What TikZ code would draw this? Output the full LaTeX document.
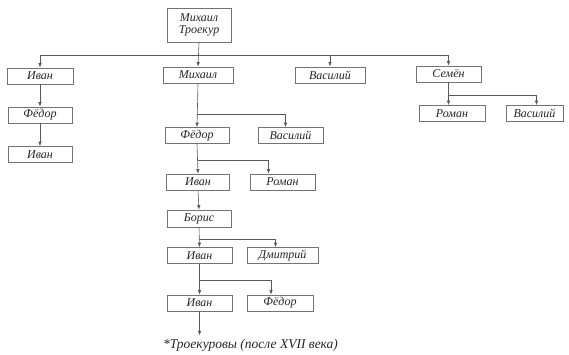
\documentclass[tikz,border=0pt]{standalone}
\usepackage{fontspec}
\setmainfont{Liberation Serif}
\usetikzlibrary{calc, positioning}
\usetikzlibrary{arrows.meta}

\tikzset{
  person/.style={draw=black!55, line width=0.6pt, fill=white, inner sep=0pt,
    minimum width=64pt, minimum height=16pt, align=center, text=black!85,
    font=\fontsize{12}{12.5}\selectfont\itshape},
  link/.style={draw=black!65, line width=0.6pt},
  conn/.style={link, -{Latex[length=4.5pt, width=3.5pt]}}
}

\begin{document}
\begin{tikzpicture}[x=1pt, y=-1pt]
\useasboundingbox (0,0) rectangle (569,355);

% root
\node[person, minimum width=64pt, minimum height=34pt] (root) at (199,25) {Михаил\\[-1pt]Троекур};

% sons
\node[person, minimum width=66pt] (ivanA) at (40,76) {Иван};
\node[person, minimum width=70pt] (mikhail) at (198,75) {Михаил};
\node[person, minimum width=70pt] (vasA) at (330,75) {Василий};
\node[person, minimum width=65pt] (semen) at (448.5,74) {Семён};

% left line
\node[person] (fedorA) at (40,115) {Фёдор};
\node[person] (ivanA2) at (40,154.5) {Иван};

% middle line
\node[person] (fedorB) at (197,135.5) {Фёдор};
\node[person, minimum width=65pt] (vasB) at (290.5,135.5) {Василий};
\node[person, minimum width=63pt] (ivanB) at (198,182) {Иван};
\node[person, minimum width=65pt] (romanB) at (282.5,182) {Роман};
\node[person, minimum height=17pt] (boris) at (199,218.5) {Борис};
\node[person, minimum width=65pt] (ivanC) at (199.5,255.5) {Иван};
\node[person, minimum width=71pt] (dmitry) at (282.5,255.5) {Дмитрий};
\node[person, minimum width=65pt] (ivanD) at (199.5,303) {Иван};
\node[person, minimum width=66pt] (fedorC) at (280,303) {Фёдор};

% right line
\node[person, minimum width=66pt] (romanC) at (452,113.5) {Роман};
\node[person, minimum width=57pt] (vasC) at (534.5,113.5) {Василий};

\node[text=black!85, font=\fontsize{13.5}{14}\selectfont\itshape] (note) at (250.5,345) {*Троекуровы (после XVII века)};

% connectors
\coordinate (bus) at (0,55);
\draw[link] (ivanA.north |- bus) -- (semen.north |- bus);
\draw[conn] (root.south) -- (mikhail.north);
\foreach \s in {ivanA, vasA, semen}
  \draw[conn] (\s.north |- bus) -- (\s.north);

\draw[conn] (ivanA.south) -- (fedorA.north);
\draw[conn] (fedorA.south) -- (ivanA2.north);

\draw[conn] (mikhail.south) -- (fedorB.north);
\draw[conn] ($(mikhail.south)!0.7!(fedorB.north)$) -| ([xshift=-5pt]vasB.north);
\draw[conn] (fedorB.south) -- (ivanB.north);
\draw[conn] ($(fedorB.south)!0.55!(ivanB.north)$) -| ([xshift=-14pt]romanB.north);
\draw[conn] (ivanB.south) -- (boris.north);
\draw[conn] (boris.south) -- (ivanC.north);
\draw[conn] ($(boris.south)!0.6!(ivanC.north)$) -| ([xshift=-7pt]dmitry.north);
\draw[conn] (ivanC.south) -- (ivanD.north);
\draw[conn] ($(ivanC.south)!0.55!(ivanD.north)$) -| ([xshift=-9pt]fedorC.north);
\draw[conn] (ivanD.south) -- (ivanD.south |- note.north);

\draw[conn] (semen.south) -- (semen.south |- romanC.north);
\draw[conn] ($(semen.south)!0.55!(semen.south |- romanC.north)$) -| ([xshift=2pt]vasC.north);
\end{tikzpicture}
\end{document}
